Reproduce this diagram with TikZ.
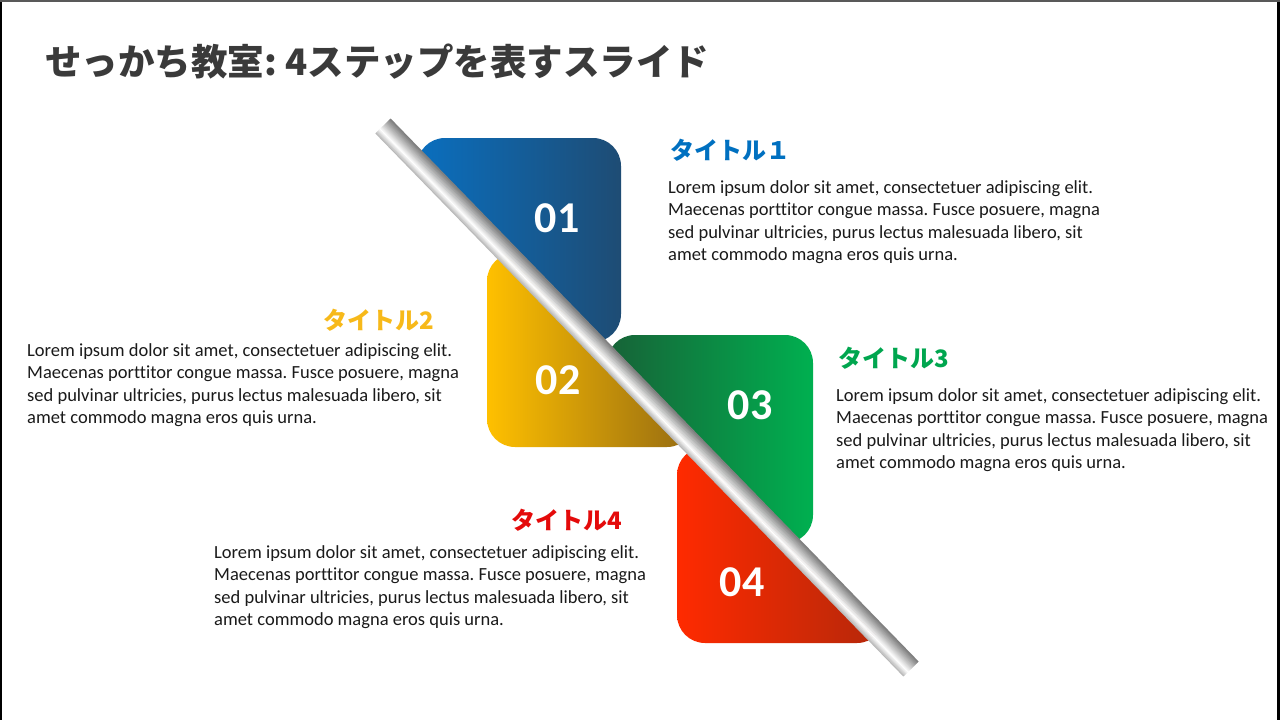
\documentclass[tikz,border=0pt]{standalone}
\usepackage{fontspec}
\setmainfont{Carlito}[Ligatures=NoCommon]
\newfontfamily\jp{Noto Sans CJK JP}
\frenchspacing
\definecolor{tgray}{HTML}{3A3A3A}
\definecolor{txt}{HTML}{1A1A1A}
\definecolor{c1}{HTML}{0070C0}
\definecolor{c2}{HTML}{F7B91A}
\definecolor{c3}{HTML}{00A64F}
\definecolor{c4}{HTML}{E40A0A}
\definecolor{b1l}{HTML}{0A6FBF}
\definecolor{b1r}{HTML}{1E4C74}
\definecolor{b2l}{HTML}{FFC000}
\definecolor{b2r}{HTML}{946A12}
\definecolor{b3l}{HTML}{176237}
\definecolor{b3r}{HTML}{00B050}
\definecolor{b4l}{HTML}{FF2A00}
\definecolor{b4r}{HTML}{B3280A}
\tikzset{
  body/.style={anchor=north west, inner sep=0pt, align=left, text=txt,
    font=\frenchspacing\fontsize{18.5}{22.5}\selectfont},
  steptitle/.style={anchor=west, inner sep=0pt, font=\jp\bfseries\fontsize{24}{28}\selectfont},
  num/.style={inner sep=0pt, text=white, font=\bfseries\fontsize{44}{48}\selectfont},
  box/.style={rounded corners=28pt}
}
\begin{document}
\begin{tikzpicture}[x=1pt,y=-1pt]
\useasboundingbox (0,0) rectangle (1280,720);
\fill[white] (0,0) rectangle (1280,720);
% frame
\fill[black] (0,0) rectangle (2,720);
\fill[black] (1277,0) rectangle (1280,720);
\fill[gray!70!black] (0,0) rectangle (1280,1.5);

% title
\node[anchor=west, inner sep=0pt, text=tgray, font=\jp\bfseries\fontsize{36.5}{40}\selectfont] (title) at (45,62) {せっかち教室: 4ステップを表すスライド};

% upper-right half: blue and green
\begin{scope}
  \clip (-145,-417) -- (1439,1212) -- (1439,-417) -- cycle;
  \shade[box, left color=b1l, right color=b1r] (417,138) rectangle (621,342);
  \shade[box, left color=b3l, right color=b3r] (607,335) rectangle (813,543);
\end{scope}
% lower-left half: yellow and red
\begin{scope}
  \clip (-145,-417) -- (1439,1212) -- (-145,1212) -- cycle;
  \shade[box, left color=b2l, right color=b2r] (487,253) rectangle (695,447);
  \shade[box, left color=b4l, right color=b4r] (677,447) rectangle (885,643);
\end{scope}

% rod
\foreach \t in {-10,-9,...,-4}{
  \pgfmathsetmacro\p{(\t+10)/6*100}
  \draw[line width=1.4pt, white!\p!gray!55] ({383+\t*0.717},{126-\t*0.697}) -- ({911+\t*0.717},{669-\t*0.697});
}
\foreach \t in {-3,-2,...,10}{
  \pgfmathsetmacro\p{100-(\t+4)/14*100}
  \draw[line width=1.4pt, white!\p!gray] ({383+\t*0.717},{126-\t*0.697}) -- ({911+\t*0.717},{669-\t*0.697});
}

% numbers
\node[num] (n1) at (557,218) {01};
\node[num] (n2) at (558,380) {02};
\node[num] (n3) at (750,405) {03};
\node[num] (n4) at (742,582) {04};

% titles
\node[steptitle, text=c1] (t1) at (670,150) {タイトル１};
\node[steptitle, text=c2] (t2) at (323,320) {タイトル2};
\node[steptitle, text=c3] (t3) at (838,358) {タイトル3};
\node[steptitle, text=c4] (t4) at (511,520) {タイトル4};

% body texts
\node[body] (d1) at (668,180) {Lorem ipsum dolor sit amet, consectetuer adipiscing elit.\\Maecenas porttitor congue massa. Fusce posuere, magna\\sed pulvinar ultricies, purus lectus malesuada libero, sit\\amet commodo magna eros quis urna.};
\node[body] (d2) at (27,343) {Lorem ipsum dolor sit amet, consectetuer adipiscing elit.\\Maecenas porttitor congue massa. Fusce posuere, magna\\sed pulvinar ultricies, purus lectus malesuada libero, sit\\amet commodo magna eros quis urna.};
\node[body] (d3) at (836,388) {Lorem ipsum dolor sit amet, consectetuer adipiscing elit.\\Maecenas porttitor congue massa. Fusce posuere, magna\\sed pulvinar ultricies, purus lectus malesuada libero, sit\\amet commodo magna eros quis urna.};
\node[body] (d4) at (214,545) {Lorem ipsum dolor sit amet, consectetuer adipiscing elit.\\Maecenas porttitor congue massa. Fusce posuere, magna\\sed pulvinar ultricies, purus lectus malesuada libero, sit\\amet commodo magna eros quis urna.};
\end{tikzpicture}
\end{document}
